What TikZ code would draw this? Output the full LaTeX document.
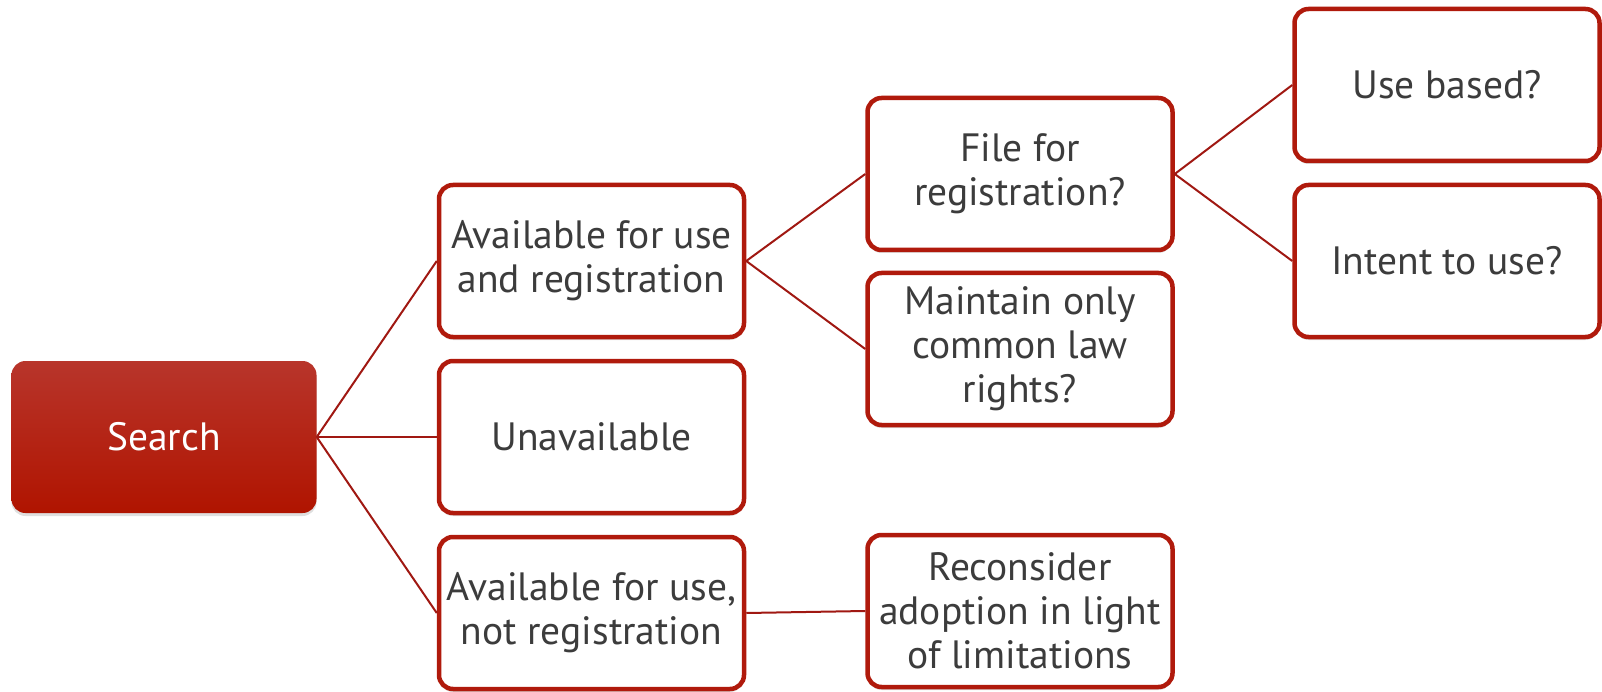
\documentclass[tikz,border=0pt]{standalone}
\usepackage{fontspec}
\setmainfont{PT Sans}
\usetikzlibrary{shadows}
\definecolor{boxred}{HTML}{B01A0C}
\definecolor{linkred}{HTML}{A01812}
\definecolor{txtgray}{HTML}{3C3C3C}
\definecolor{topred}{HTML}{B8352B}
\definecolor{botred}{HTML}{B01400}
\begin{document}
\begin{tikzpicture}[x=1pt,y=-1pt,
  boxbase/.style={rounded corners=14pt, minimum width=305pt, minimum height=152pt,
    inner sep=0pt, align=center, font=\fontsize{39.5}{44}\selectfont,
    drop shadow={opacity=0.25, shadow xshift=0pt, shadow yshift=-3pt}},
  card/.style={boxbase, draw=boxred, line width=4.5pt, fill=white, text=txtgray},
  rootbox/.style={boxbase, top color=topred, bottom color=botred, text=white},
  link/.style={draw=linkred, line width=2pt}]
\useasboundingbox (0,0) rectangle (1602,692);

% root
\node[rootbox] (search) at (164,437) {Search};

% first level
\node[card] (avreg)  at (591.5,261) {Available for use\\and registration};
\node[card] (unav)   at (591.5,437) {Unavailable};
\node[card] (avnot)  at (591.5,613) {Available for use,\\not registration};

% second level
\node[card] (file)   at (1020,174) {File for\\registration?};
\node[card] (common) at (1020,349) {Maintain only\\common law\\rights?};
\node[card] (recon)  at (1020,611) {Reconsider\\adoption in light\\of limitations};

% third level
\node[card] (usebased) at (1447,85)  {Use based?};
\node[card] (intent)   at (1447,261) {Intent to use?};

% connectors
\draw[link] (search.east) -- (avreg.west);
\draw[link] (search.east) -- (unav.west);
\draw[link] (search.east) -- (avnot.west);
\draw[link] (avreg.east) -- (file.west);
\draw[link] (avreg.east) -- (common.west);
\draw[link] (avnot.east) -- (recon.west);
\draw[link] (file.east) -- (usebased.west);
\draw[link] (file.east) -- (intent.west);
\end{tikzpicture}
\end{document}
